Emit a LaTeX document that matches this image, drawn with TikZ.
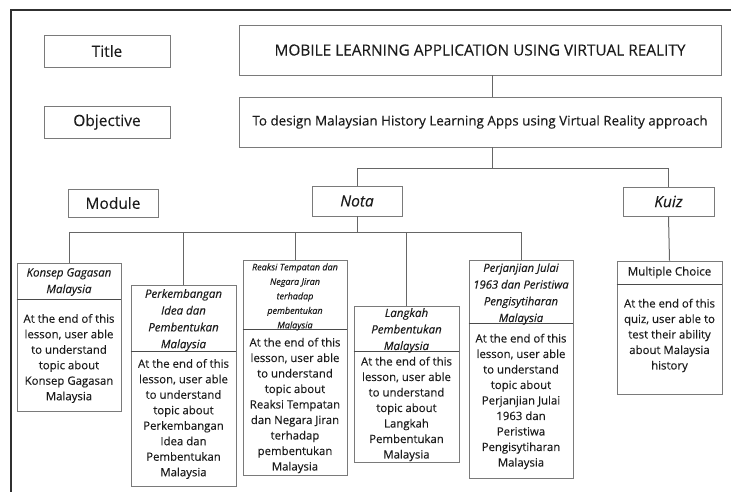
\documentclass[tikz,border=0pt]{standalone}
\usepackage{fontspec}
\setmainfont{Open Sans}[FakeBold=0.12]
\definecolor{ink}{HTML}{1C1C1C}
\definecolor{boxgray}{HTML}{7A7A7A}
\definecolor{linkgray}{HTML}{666666}
\definecolor{divgray}{HTML}{4A4A4A}
\definecolor{framegray}{HTML}{303030}
\tikzset{
  box/.style={draw=boxgray, line width=0.9pt, rectangle, inner sep=0pt, fill=white},
  txt/.style={inner sep=0pt, align=center, text=ink},
  link/.style={draw=linkgray, line width=1pt},
  divider/.style={draw=divgray, line width=1.5pt},
  frameline/.style={draw=framegray, line width=1.4pt},
  bodyfont/.style={font=\fontsize{11.4}{15.5}\selectfont},
  headfont/.style={font=\fontsize{11.5}{16.8}\selectfont\itshape},
  labelfont/.style={font=\fontsize{15.5}{18}\selectfont},
}
\begin{document}
\begin{tikzpicture}[x=1pt, y=-1pt]
\useasboundingbox (0,0) rectangle (731,492);

% outer frame (top and left edges)
\coordinate (frTR) at (731,10);
\coordinate (frTL) at (11,10);
\coordinate (frBL) at (11,492);
\draw[frameline] (frTR) -- (frTL) -- (frBL);

% row labels
\node[box, minimum width=126pt, minimum height=32pt] (titlelbl) at (107,51) {};
\node[txt, labelfont] (titlelbltxt) at (titlelbl.center) {Title};
\node[box, minimum width=126pt, minimum height=32pt] (objlbl) at (107,122) {};
\node[txt, labelfont] (objlbltxt) at (objlbl.center) {Objective};
\node[box, minimum width=90pt, minimum height=28pt] (modlbl) at (113,203) {};
\node[txt, labelfont] (modlbltxt) at (modlbl.center) {Module};

% title and objective
\node[box, minimum width=482pt, minimum height=50pt] (titlemain) at (480,50) {};
\node[txt, font=\fontsize{15.4}{17}\selectfont] (titlemaintxt) at (titlemain.center)
  {MOBILE LEARNING APPLICATION USING VIRTUAL REALITY};
\node[box, minimum width=482pt, minimum height=50pt] (objmain) at (480,122) {};
\node[txt, font=\fontsize{13.4}{17}\selectfont] (objmaintxt) at (objmain.center)
  {To design Malaysian History Learning Apps using Virtual Reality approach};

% module groups
\node[box, minimum width=90pt, minimum height=30pt] (nota) at (357,201) {};
\node[txt, font=\fontsize{15.5}{18}\selectfont\itshape] (notatxt) at (nota.center) {Nota};
\node[box, minimum width=91pt, minimum height=29pt] (kuiz) at (668.5,201.5) {};
\node[txt, font=\fontsize{15.5}{18}\selectfont\itshape] (kuiztxt) at (kuiz.center) {Kuiz};

% Konsep Gagasan Malaysia
\node[box, minimum width=104pt, minimum height=36pt] (k1h) at (69,281) {};
\node[box, minimum width=104pt, minimum height=112pt] (k1b) at (69,355) {};
\draw[divider] (k1h.south west) -- (k1h.south east);
\node[txt, font=\fontsize{11.5}{16.5}\selectfont\itshape] (k1ht) at (69,282) {Konsep Gagasan\\Malaysia};
\node[txt, bodyfont] (k1bt) at (69,358.5)
  {At the end of this\\lesson, user able\\to understand\\topic about\\Konsep Gagasan\\Malaysia};

% Perkembangan Idea dan Pembentukan Malaysia
\node[box, minimum width=105pt, minimum height=66pt] (k2h) at (183.5,318) {};
\node[box, minimum width=105pt, minimum height=135pt] (k2b) at (183.5,418.5) {};
\draw[divider] (k2h.south west) -- (k2h.south east);
\node[txt, headfont] (k2ht) at (183.5,320) {Perkembangan\\Idea dan\\Pembentukan\\Malaysia};
\node[txt, bodyfont] (k2bt) at (183.5,419)
  {At the end of this\\lesson, user able\\to understand\\topic about\\Perkembangan\\Idea dan\\Pembentukan\\Malaysia};

% Reaksi Tempatan dan Negara Jiran terhadap pembentukan Malaysia
\node[box, minimum width=104pt, minimum height=69pt] (k3h) at (295,294.5) {};
\node[box, minimum width=104pt, minimum height=146pt] (k3b) at (295,402) {};
\draw[divider] (k3h.south west) -- (k3h.south east);
\node[txt, font=\fontsize{9}{14.5}\selectfont\itshape] (k3ht) at (295,297)
  {Reaksi Tempatan dan\\Negara Jiran\\terhadap\\pembentukan\\Malaysia};
\node[txt, bodyfont] (k3bt) at (295,405.5)
  {At the end of this\\lesson, user able\\to understand\\topic about\\Reaksi Tempatan\\dan Negara Jiran\\terhadap\\pembentukan\\Malaysia};

% Langkah Pembentukan Malaysia
\node[box, minimum width=105pt, minimum height=45pt] (k4h) at (406.5,328.5) {};
\node[box, minimum width=105pt, minimum height=111pt] (k4b) at (406.5,406.5) {};
\draw[divider] (k4h.south west) -- (k4h.south east);
\node[txt, font=\fontsize{11.5}{16.5}\selectfont\itshape] (k4ht) at (406.5,330.5) {Langkah\\Pembentukan\\Malaysia};
\node[txt, bodyfont] (k4bt) at (406.5,409)
  {At the end of this\\lesson, user able\\to understand\\topic about\\Langkah\\Pembentukan\\Malaysia};

% Perjanjian Julai 1963 dan Peristiwa Pengisytiharan Malaysia
\node[box, minimum width=104pt, minimum height=63pt] (k5h) at (521,291.5) {};
\node[box, minimum width=104pt, minimum height=155pt] (k5b) at (521,400.5) {};
\draw[divider] (k5h.south west) -- (k5h.south east);
\node[txt, font=\fontsize{11.3}{16.7}\selectfont\itshape] (k5ht) at (521,294)
  {Perjanjian Julai\\1963 dan Peristiwa\\Pengisytiharan\\Malaysia};
\node[txt, bodyfont] (k5bt) at (521,401.5)
  {At the end of this\\lesson, user able\\to understand\\topic about\\Perjanjian Julai\\1963 dan\\Peristiwa\\Pengisytiharan\\Malaysia};

% Multiple Choice
\node[box, minimum width=105pt, minimum height=23pt] (mch) at (669.5,272.5) {};
\node[box, minimum width=105pt, minimum height=110pt] (mcb) at (669.5,339) {};
\draw[divider] (mch.south west) -- (mch.south east);
\node[txt, font=\fontsize{11.6}{15}\selectfont] (mcht) at (mch.center) {Multiple Choice};
\node[txt, bodyfont] (mcbt) at (669.5,335.5)
  {At the end of this\\quiz, user able to\\test their ability\\about Malaysia\\history};

% connectors
\coordinate (midline) at (492,0);
\coordinate (topbar) at (492,169);
\coordinate (notabar) at (357,232);
\draw[link] (titlemain.south -| midline) -- (objmain.north -| midline);
\draw[link] (objmain.south -| midline) -- (topbar);
\draw[link] (nota.north) |- (kuiz.north |- topbar) -- (kuiz.north);
\draw[link] (nota.south) -- (notabar);
\draw[link] (k1h.north) |- (k5h.north |- notabar) -- (k5h.north);
\draw[link] (k2h.north |- notabar) -- (k2h.north);
\draw[link] (k3h.north |- notabar) -- (k3h.north);
\draw[link] (k4h.north |- notabar) -- (k4h.north);
\draw[link] (kuiz.south) -- (mch.north);
\end{tikzpicture}
\end{document}
